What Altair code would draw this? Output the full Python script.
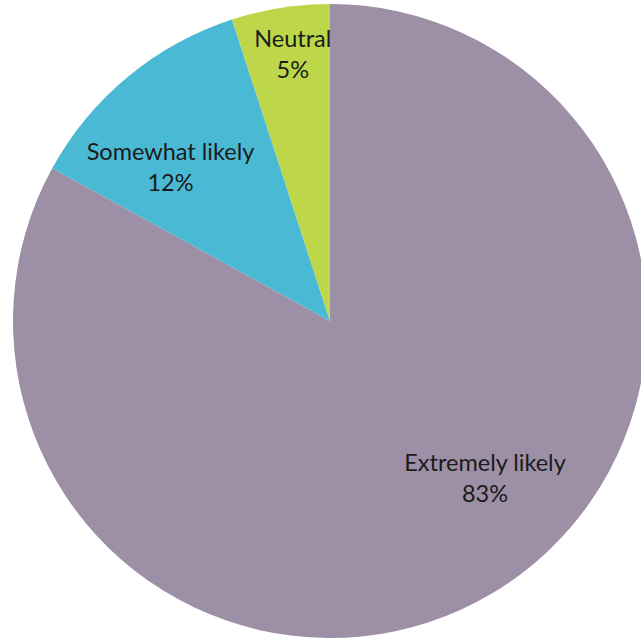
import altair as alt
import pandas as pd

# Survey responses: how likely respondents are to recommend
categories = ["Extremely likely", "Somewhat likely", "Neutral"]
percents = [83, 12, 5]
colors = ["#9d8fa6", "#4abad4", "#bed64a"]

df = pd.DataFrame({
    "category": categories,
    "pct": percents,
    "order": list(range(len(categories))),
})
df["label"] = df["category"] + "\n" + df["pct"].astype(str) + "%"

cx, cy, r = 330, 321, 317
theta_scale = alt.Scale(domain=[0, 100])

pie = alt.Chart(df).mark_arc(outerRadius=r, stroke=None).encode(
    theta=alt.Theta("pct:Q", stack=True, scale=theta_scale),
    order=alt.Order("order:Q"),
    color=alt.Color(
        "category:N",
        scale=alt.Scale(domain=categories, range=colors),
        legend=None,
    ),
    x=alt.value(cx),
    y=alt.value(cy),
)

# Mid-angle of each slice, computed before the per-label filters
label_base = (
    alt.Chart(df)
    .transform_window(cum="sum(pct)", sort=[alt.SortField("order")],
                      frame=[None, 0])
    .transform_calculate(mid="datum.cum - datum.pct / 2")
)

def label_layer(name, radius, dx=0, dy=0):
    return label_base.transform_filter(alt.datum.category == name).mark_text(
        font="Lato",
        fontSize=23.5,
        lineBreak="\n",
        lineHeight=31,
        align="center",
        baseline="middle",
        color="#1b1b1b",
        dx=dx,
        dy=dy,
    ).encode(
        theta=alt.Theta("mid:Q", stack=False, scale=theta_scale),
        text="label:N",
        radius=alt.value(radius),
        x=alt.value(cx),
        y=alt.value(cy),
    )

labels = (
    label_layer("Extremely likely", 220, dx=43, dy=-46)
    + label_layer("Somewhat likely", 222, dx=-18, dy=3)
    + label_layer("Neutral", 270, dx=5, dy=-14)
)

chart = (
    (pie + labels)
    .properties(width=641, height=639, autosize="none", padding=0,
                background="white")
    .configure_view(stroke=None)
)

chart.save("out.html", embed_options={"renderer": "svg", "actions": False})
